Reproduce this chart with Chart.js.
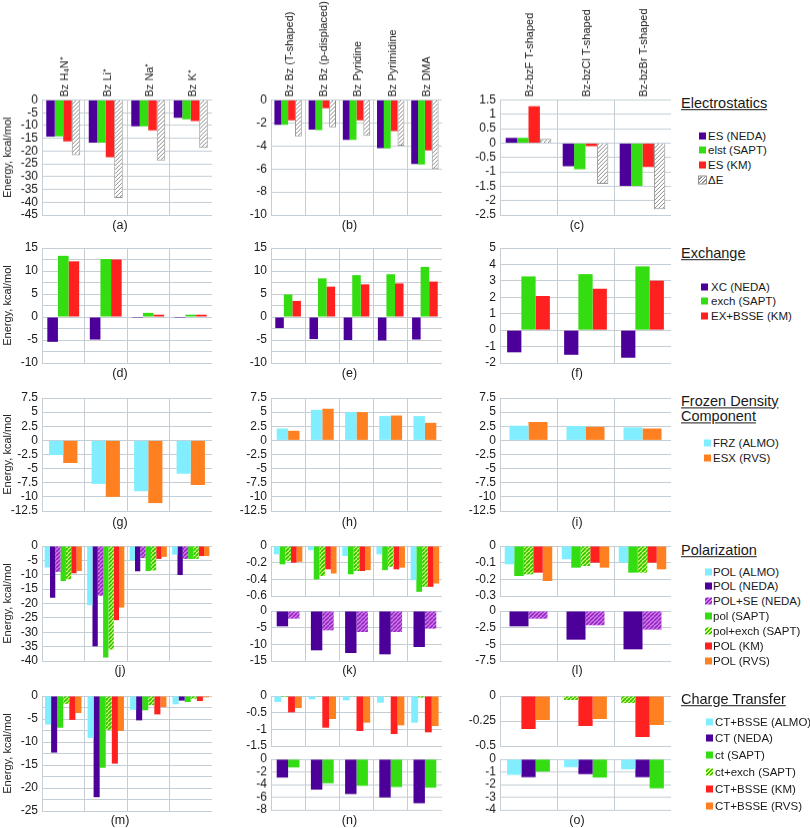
<!DOCTYPE html>
<html><head><meta charset="utf-8">
<script src="https://cdn.jsdelivr.net/npm/chart.js@4/dist/chart.umd.min.js"></script>
<style>
body{margin:0;background:#fff;width:810px;height:828px;position:relative;overflow:hidden;font-family:'Liberation Sans',Arial,sans-serif;color:#1a1a1a}
.p{position:absolute}
.lbl{position:absolute;font-size:12.5px;transform:translate(-50%,-50%);white-space:nowrap}
.lt{position:absolute;font-size:14.5px;text-decoration:underline;left:681px;line-height:15.6px;transform:translateY(-50%)}
.li{position:absolute;font-size:11.5px;white-space:nowrap;transform:translateY(-50%);line-height:13px}
.sw{position:absolute;width:7px;height:7px;transform:translateY(-50%)}
</style></head><body>
<script>
// ---------- categories ----------
const ION = ['Bz H₄N⁺','Bz Li⁺','Bz Na⁺','Bz K⁺'];
const STK = ['Bz Bz (T-shaped)','Bz Bz (p-displaced)','Bz Pyridine','Bz Pyrimidine','Bz DMA'];
const HAL = ['Bz-bzF T-shaped','Bz-bzCl T-shaped','Bz-bzBr T-shaped'];

// ---------- Electrostatics ----------
const esNEDA_ion = [-14.3,-16.7,-10.3,-7.0];
const elst_ion   = [-14.2,-16.7,-10.3,-7.6];
const esKM_ion   = [-16.2,-22.4,-11.9,-8.3];
const dE_ion     = [-21.6,-38.3,-23.7,-18.8];
const esNEDA_stk = [-2.17,-2.58,-3.48,-4.2,-5.57];
const elst_stk   = [-2.17,-2.61,-3.48,-4.22,-5.62];
const esKM_stk   = [-1.77,-0.72,-1.77,-2.7,-4.38];
const dE_stk     = [-3.16,-2.38,-3.13,-3.97,-6.0];
const esNEDA_hal = [0.18,-0.81,-1.49];
const elst_hal   = [0.18,-0.91,-1.49];
const esKM_hal   = [1.28,-0.11,-0.83];
const dE_hal     = [0.15,-1.42,-2.3];

// ---------- Exchange ----------
const xc_ion   = [-5.4,-4.9,-0.2,-0.2];
const exch_ion = [13.3,12.6,0.9,0.5];
const exKM_ion = [12.1,12.5,0.5,0.5];
const xc_stk   = [-2.4,-4.8,-5.0,-5.1,-4.9];
const exch_stk = [4.9,8.4,9.1,9.3,10.9];
const exKM_stk = [3.5,6.6,7.1,7.3,7.7];
const xc_hal   = [-1.35,-1.5,-1.68];
const exch_hal = [3.27,3.41,3.88];
const exKM_hal = [2.08,2.52,3.01];

// ---------- Frozen density ----------
const frz_ion = [-2.6,-7.7,-9.0,-5.9];
const esx_ion = [-4.0,-10.0,-11.1,-7.9];
const frz_stk = [2.1,5.4,5.0,4.3,4.3];
const esx_stk = [1.7,5.6,5.0,4.4,3.1];
const frz_hal = [2.6,2.55,2.3];
const esx_hal = [3.25,2.4,2.1];

// ---------- Polarization ----------
const polALMO_ion = [-7.5,-20.6,-5.0,-3.0];
const polNEDA_ion = [-18.0,-34.9,-8.8,-10.1];
const polSE_ion   = [-9.0,-17.3,-4.2,-4.5];
const pol_ion     = [-12.2,-38.8,-8.7,-4.5];
const polEx_ion   = [-11.6,-36.0,-8.5,-4.5];
const polKM_ion   = [-9.5,-25.8,-4.5,-3.5];
const polRVS_ion  = [-8.7,-21.4,-3.8,-3.5];
const polALMO_stk = [-0.1,-0.05,-0.12,-0.1,-0.41];
const pol_stk     = [-0.22,-0.4,-0.34,-0.29,-0.55];
const polEx_stk   = [-0.18,-0.36,-0.3,-0.25,-0.49];
const polKM_stk   = [-0.2,-0.28,-0.3,-0.28,-0.49];
const polRVS_stk  = [-0.19,-0.33,-0.29,-0.26,-0.45];
const polNEDA_stk = [-4.6,-11.8,-12.6,-13.0,-10.8];
const polSE_stk   = [-2.3,-5.8,-6.3,-6.3,-5.3];
const polALMO_hal = [-0.11,-0.08,-0.1];
const pol_hal     = [-0.18,-0.13,-0.16];
const polEx_hal   = [-0.17,-0.12,-0.16];
const polKM_hal   = [-0.16,-0.1,-0.1];
const polRVS_hal  = [-0.21,-0.13,-0.14];
const polNEDA_hal = [-2.3,-4.3,-5.75];
const polSE_hal   = [-1.15,-2.15,-2.8];

// ---------- Charge transfer ----------
const ctALMO_ion = [-6.2,-9.1,-3.0,-1.8];
const ctNEDA_ion = [-12.3,-22.0,-5.3,-1.0];
const ct_ion     = [-6.9,-15.6,-3.1,-1.3];
const ctEx_ion   = [-1.7,-7.4,-2.0,-0.6];
const ctKM_ion   = [-5.2,-14.7,-4.0,-1.1];
const ctRVS_ion  = [-3.7,-7.6,-2.4,-0.3];
const ctALMO_stk = [-0.18,-0.1,-0.13,-0.2,-0.8];
const ctEx_stk   = [-0.03,-0.01,-0.01,-0.02,-0.05];
const ctKM_stk   = [-0.49,-0.95,-1.05,-1.14,-1.09];
const ctRVS_stk  = [-0.36,-0.69,-0.8,-0.88,-0.9];
const ctNEDA_stk = [-2.9,-4.8,-5.5,-6.05,-6.95];
const ct_stk     = [-1.3,-3.8,-4.2,-4.4,-4.5];
const ctEx_hal   = [-0.005,-0.04,-0.07];
const ctKM_hal   = [-0.33,-0.3,-0.41];
const ctRVS_hal  = [-0.24,-0.23,-0.29];
const ctALMO_hal = [-1.24,-0.63,-0.8];
const ctNEDA_hal = [-1.42,-1.18,-1.42];
const ct_hal     = [-0.97,-1.45,-2.3];

// ---------- styles ----------
const PUR='#4c0099', GRN='#33dd11', RED='#ff2020', CYN='#80eeff', ORG='#ff8020';
const GRID='#c5ced5';
function hatch(bg, fg, sp, lw){
  const c=document.createElement('canvas'); c.width=sp; c.height=sp;
  const g=c.getContext('2d'); g.fillStyle=bg; g.fillRect(0,0,sp,sp);
  g.strokeStyle=fg; g.lineWidth=lw; g.beginPath();
  for(const o of [-sp,0,sp]){ g.moveTo(o,sp); g.lineTo(o+sp,0); }
  g.stroke();
  return g.createPattern(c,'repeat');
}
const DEP = hatch('#ffffff','#8c8c8c',4,1);
const SEP = hatch('#e27af0','#8a2cc0',4,1.6);
const GXP = hatch('#d6ff7a','#33c400',4,1.8);

const S = {
  PUR:(d)=>({data:d,backgroundColor:PUR}),
  GRN:(d)=>({data:d,backgroundColor:GRN}),
  RED:(d)=>({data:d,backgroundColor:RED}),
  CYN:(d)=>({data:d,backgroundColor:CYN}),
  ORG:(d)=>({data:d,backgroundColor:ORG}),
  DE:(d)=>({data:d,backgroundColor:DEP,borderColor:'#909090',borderWidth:1}),
  SE:(d)=>({data:d,backgroundColor:SEP}),
  GX:(d)=>({data:d,backgroundColor:GXP})
};

const fmt=v=>String(Math.round(v*1000)/1000);
Chart.defaults.font.family="'Liberation Sans', Arial, sans-serif";
Chart.defaults.color='#1a1a1a';

function P(o){
  const axisW=42;
  const top = o.topLabels ? 0 : o.y-10;
  const xh = o.topLabels ? o.y : 0;
  const left=o.x-axisW, W=o.w+axisW, H=(o.y-top)+o.h+10;
  const div=document.createElement('div'); div.className='p';
  div.style.cssText=`left:${left}px;top:${top}px;width:${W}px;height:${H}px`;
  const cv=document.createElement('canvas'); cv.width=W; cv.height=H;
  cv.style.width=W+'px'; cv.style.height=H+'px';
  div.appendChild(cv); document.body.appendChild(div);
  const n=o.sets.length;
  const ds=o.sets.map(s=>Object.assign({borderWidth:0,categoryPercentage:n/(n+1),barPercentage:1},s));
  new Chart(cv,{type:'bar',data:{labels:o.labels,datasets:ds},options:{
    responsive:false,animation:false,events:[],
    layout:{padding:{top:o.topLabels?0:10,bottom:10,left:0,right:0}},
    plugins:{legend:{display:false},tooltip:{enabled:false}},
    scales:{
      x:{position:o.topLabels?'top':'bottom',
         grid:{color:GRID,drawTicks:false,offset:true},
         border:{color:GRID},
         ticks:{display:!!o.topLabels,autoSkip:false,minRotation:90,maxRotation:90,padding:3,labelOffset:15,font:{size:11}},
         afterFit(s){s.height=xh;s.paddingLeft=0;s.paddingRight=0;}},
      y:{min:o.min,max:o.max,
         grid:{color:GRID,drawTicks:false},
         border:{color:GRID},
         ticks:{stepSize:o.step,autoSkip:false,padding:4,font:{size:12},
           callback:(v)=>{ if(o.major){const q=v/o.major; if(Math.abs(q-Math.round(q))>1e-6) return '';} return fmt(v);} },
         title:{display:!!o.title,text:'Energy, kcal/mol',font:{size:11},padding:{top:1,bottom:0}},
         afterFit(s){s.width=axisW;s.paddingTop=0;s.paddingBottom=0;}}
    }}});
}

const XA=42, XB=271, XC=500, WA=170, WB=171, WC=171;
const R1=99.5, R2=248.3, R3=398.3, R4=545.5, R5=695.7;

// Row 1 Electrostatics
P({x:XA,y:R1,w:WA,h:115,labels:ION,topLabels:true,title:true,min:-45,max:0,step:5,
   sets:[S.PUR(esNEDA_ion),S.GRN(elst_ion),S.RED(esKM_ion),S.DE(dE_ion)]});
P({x:XB,y:R1,w:WB,h:115,labels:STK,topLabels:true,min:-10,max:0,step:2,
   sets:[S.PUR(esNEDA_stk),S.GRN(elst_stk),S.RED(esKM_stk),S.DE(dE_stk)]});
P({x:XC,y:R1,w:WC,h:115,labels:HAL,topLabels:true,min:-2.5,max:1.5,step:0.5,
   sets:[S.PUR(esNEDA_hal),S.GRN(elst_hal),S.RED(esKM_hal),S.DE(dE_hal)]});
// Row 2 Exchange
P({x:XA,y:R2,w:WA,h:115,labels:ION,title:true,min:-10,max:15,step:2.5,major:5,
   sets:[S.PUR(xc_ion),S.GRN(exch_ion),S.RED(exKM_ion)]});
P({x:XB,y:R2,w:WB,h:115,labels:STK,min:-10,max:15,step:2.5,major:5,
   sets:[S.PUR(xc_stk),S.GRN(exch_stk),S.RED(exKM_stk)]});
P({x:XC,y:R2,w:WC,h:115,labels:HAL,min:-2,max:5,step:1,
   sets:[S.PUR(xc_hal),S.GRN(exch_hal),S.RED(exKM_hal)]});
// Row 3 Frozen density
P({x:XA,y:R3,w:WA,h:113,labels:ION,title:true,min:-12.5,max:7.5,step:2.5,
   sets:[S.CYN(frz_ion),S.ORG(esx_ion)]});
P({x:XB,y:R3,w:WB,h:113,labels:STK,min:-12.5,max:7.5,step:2.5,
   sets:[S.CYN(frz_stk),S.ORG(esx_stk)]});
P({x:XC,y:R3,w:WC,h:113,labels:HAL,min:-12.5,max:7.5,step:2.5,
   sets:[S.CYN(frz_hal),S.ORG(esx_hal)]});
// Row 4 Polarization
P({x:XA,y:R4,w:WA,h:115,labels:ION,title:true,min:-40,max:0,step:5,
   sets:[S.CYN(polALMO_ion),S.PUR(polNEDA_ion),S.SE(polSE_ion),S.GRN(pol_ion),S.GX(polEx_ion),S.RED(polKM_ion),S.ORG(polRVS_ion)]});
P({x:XB,y:546,w:WB,h:50,labels:STK,min:-0.6,max:0,step:0.2,
   sets:[S.CYN(polALMO_stk),S.GRN(pol_stk),S.GX(polEx_stk),S.RED(polKM_stk),S.ORG(polRVS_stk)]});
P({x:XB,y:610.7,w:WB,h:50,labels:STK,min:-15,max:0,step:5,
   sets:[S.PUR(polNEDA_stk),S.SE(polSE_stk)]});
P({x:XC,y:546,w:WC,h:50,labels:HAL,min:-0.3,max:0,step:0.1,
   sets:[S.CYN(polALMO_hal),S.GRN(pol_hal),S.GX(polEx_hal),S.RED(polKM_hal),S.ORG(polRVS_hal)]});
P({x:XC,y:610.7,w:WC,h:50,labels:HAL,min:-7.5,max:0,step:2.5,
   sets:[S.PUR(polNEDA_hal),S.SE(polSE_hal)]});
// Row 5 Charge transfer
P({x:XA,y:R5,w:WA,h:115,labels:ION,title:true,min:-25,max:0,step:2.5,major:5,
   sets:[S.CYN(ctALMO_ion),S.PUR(ctNEDA_ion),S.GRN(ct_ion),S.GX(ctEx_ion),S.RED(ctKM_ion),S.ORG(ctRVS_ion)]});
P({x:XB,y:R5,w:WB,h:50,labels:STK,min:-1.5,max:0,step:0.5,
   sets:[S.CYN(ctALMO_stk),S.GX(ctEx_stk),S.RED(ctKM_stk),S.ORG(ctRVS_stk)]});
P({x:XB,y:759.3,w:WB,h:50.7,labels:STK,min:-8,max:0,step:2,
   sets:[S.PUR(ctNEDA_stk),S.GRN(ct_stk)]});
P({x:XC,y:R5,w:WC,h:50,labels:HAL,min:-0.5,max:0,step:0.25,
   sets:[S.GX(ctEx_hal),S.RED(ctKM_hal),S.ORG(ctRVS_hal)]});
P({x:XC,y:759.3,w:WC,h:50.7,labels:HAL,min:-4,max:0,step:1,
   sets:[S.CYN(ctALMO_hal),S.PUR(ctNEDA_hal),S.GRN(ct_hal)]});

// ---------- panel letters ----------
const letters=[['(a)',120,225],['(b)',349.5,225],['(c)',577,225],
 ['(d)',120,372.7],['(e)',349.5,372.7],['(f)',577,372.7],
 ['(g)',120,522],['(h)',349.5,522],['(i)',577,522],
 ['(j)',120,670],['(k)',349.5,670],['(l)',577,670],
 ['(m)',120,820],['(n)',349.5,820],['(o)',577,820]];
for(const [t,x,y] of letters){const d=document.createElement('div');d.className='lbl';d.textContent=t;d.style.left=x+'px';d.style.top=y+'px';document.body.appendChild(d);}

// ---------- legends ----------
const CSSP={
  DE:'repeating-linear-gradient(135deg,#fff 0 1.5px,#8c8c8c 1.5px 2.6px)',
  SE:'repeating-linear-gradient(135deg,#e27af0 0 1.5px,#8a2cc0 1.5px 2.8px)',
  GX:'repeating-linear-gradient(135deg,#d6ff7a 0 1.4px,#33c400 1.4px 2.8px)'
};
const legends=[
 {title:['Electrostatics'],ty:104,bx:699,tx:708,items:[['ES (NEDA)',PUR,135.7],['elst (SAPT)',GRN,150.3],['ES (KM)',RED,164.7],['ΔE','DE',180]]},
 {title:['Exchange'],ty:254,bx:701,tx:711,items:[['XC (NEDA)',PUR,286.7],['exch (SAPT)',GRN,301.3],['EX+BSSE (KM)',RED,315.7]]},
 {title:['Frozen Density','Component'],ty:409.5,bx:704,tx:713,items:[['FRZ (ALMO)',CYN,442.5],['ESX (RVS)',ORG,457.5]]},
 {title:['Polarization'],ty:551,bx:705,tx:713,items:[['POL (ALMO)',CYN,572],['POL (NEDA)',PUR,586.3],['POL+SE (NEDA)','SE',601],['pol (SAPT)',GRN,615.7],['pol+exch (SAPT)','GX',631],['POL (KM)',RED,646],['POL (RVS)',ORG,660.7]]},
 {title:['Charge Transfer'],ty:699.5,bx:706,tx:715,items:[['CT+BSSE (ALMO)',CYN,721.7],['CT (NEDA)',PUR,738.3],['ct (SAPT)',GRN,755],['ct+exch (SAPT)','GX',771.7],['CT+BSSE (KM)',RED,789.3],['CT+BSSE (RVS)',ORG,806]]}
];
for(const L of legends){
  const t=document.createElement('div');t.className='lt';t.innerHTML=L.title.join('<br>');t.style.top=L.ty+'px';document.body.appendChild(t);
  for(const [txt,col,y] of L.items){
    const s=document.createElement('div');s.className='sw';s.style.left=L.bx+'px';s.style.top=y+'px';
    s.style.background=CSSP[col]||col; if(col==='DE') s.style.outline='1px solid #909090';
    document.body.appendChild(s);
    const d=document.createElement('div');d.className='li';d.textContent=txt;d.style.left=L.tx+'px';d.style.top=y+'px';document.body.appendChild(d);
  }
}
</script>
</body></html>
